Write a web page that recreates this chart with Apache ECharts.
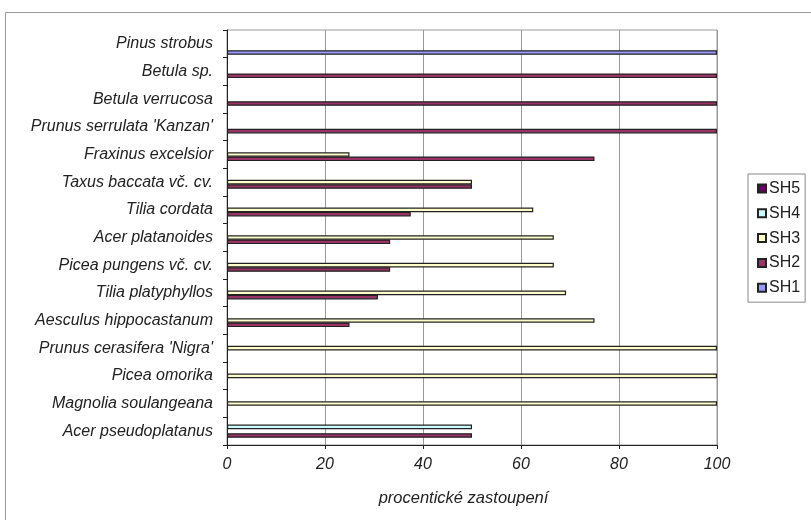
<!DOCTYPE html>
<html><head><meta charset="utf-8">
<script src="https://cdn.jsdelivr.net/npm/echarts@6/dist/echarts.min.js"></script>
<style>html,body{margin:0;padding:0;background:#fff}#c{width:811px;height:520px}</style>
</head><body><div id="c"></div>
<script>
const categories = ["Pinus strobus","Betula sp.","Betula verrucosa","Prunus serrulata 'Kanzan'","Fraxinus excelsior","Taxus baccata vč. cv.","Tilia cordata","Acer platanoides","Picea pungens vč. cv.","Tilia platyphyllos","Aesculus hippocastanum","Prunus cerasifera 'Nigra'","Picea omorika","Magnolia soulangeana","Acer pseudoplatanus"];
const SH1 = [100,null,null,null,null,null,null,null,null,null,null,null,null,null,null];
const SH2 = [null,100,100,100,75,50,37.5,33.3,33.3,30.8,25,null,null,null,50];
const SH3 = [null,null,null,null,25,50,62.5,66.7,66.7,69.2,75,100,100,100,null];
const SH4 = [null,null,null,null,null,null,null,null,null,null,null,null,null,null,50];
const SH5 = [null,null,null,null,null,null,null,null,null,null,null,null,null,null,null];
const xTicks = [0,20,40,60,80,100];
const seriesNames = ['SH5','SH4','SH3','SH2','SH1'];
const seriesData = [SH5,SH4,SH3,SH2,SH1];
const colors = ['#660066','#CCFFFF','#FFFFCC','#993366','#9999FF'];
const font = 'Liberation Sans, Arial, sans-serif';
const chart = echarts.init(document.getElementById('c'));
chart.setOption({
  animation:false,
  graphic:[{type:'rect',shape:{x:5.5,y:12.5,width:900,height:600},style:{fill:'none',stroke:'#999',lineWidth:1},z:-10}],
  grid:{left:227,top:30,right:94,bottom:75,show:true,borderColor:'#999',borderWidth:1},
  legend:{orient:'vertical',left:748,top:174,width:58,data:['SH5','SH4','SH3','SH2','SH1'],
    itemWidth:8,itemHeight:8,itemGap:8.8,padding:[6.5,5,6.5,9],borderColor:'#888',borderWidth:1,
    textStyle:{fontFamily:font,fontSize:16,color:'#222',padding:[0,0,0,-2]},icon:'rect'},
  xAxis:{type:'value',min:0,max:100,interval:20,
    name:'procentické zastoupení',nameLocation:'middle',nameGap:45,
    nameTextStyle:{fontFamily:font,fontSize:16.5,fontStyle:'italic',color:'#222',padding:[0,17,0,0]},
    axisLine:{show:true,lineStyle:{color:'#222'}},
    axisTick:{show:true,length:4,lineStyle:{color:'#222'}},
    axisLabel:{fontFamily:font,fontSize:16,fontStyle:'italic',color:'#222',margin:12,
      formatter:v=>xTicks.includes(v)?String(v):''},
    splitLine:{show:true,lineStyle:{color:'#999'}}},
  yAxis:{type:'category',data:categories,inverse:true,
    axisLine:{show:true,lineStyle:{color:'#222'}},
    axisTick:{show:true,length:4,lineStyle:{color:'#222'}},
    axisLabel:{fontFamily:font,fontSize:16,fontStyle:'italic',color:'#222',margin:14}},
  series:seriesNames.map((n,i)=>({name:n,type:'bar',data:seriesData[i],barWidth:4.6,barGap:'-6%',
    itemStyle:{color:colors[i],borderColor:'#222',borderWidth:1.2}}))
});
</script></body></html>
